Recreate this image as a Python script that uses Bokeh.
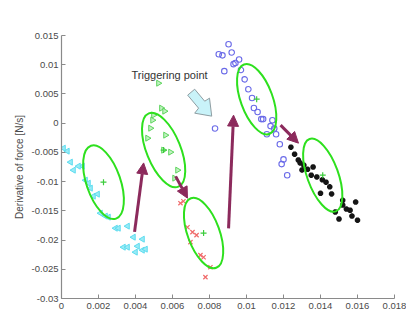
from bokeh.plotting import figure
from bokeh.models import Range1d, FixedTicker, Label, Arrow, NormalHead
from bokeh.embed import file_html
from bokeh.resources import INLINE
import math

# ---------------- data ----------------
cyan_x = [0.00011, 0.00032, 0.00049, 0.00065, 0.00114, 0.00092, 0.0013, 0.00146, 0.00157, 0.00173,
          0.00195, 0.00211, 0.00238, 0.00254, 0.00292, 0.00308, 0.00357, 0.00389, 0.00438, 0.00335,
          0.00357, 0.00411, 0.0040, 0.00438, 0.00454]
cyan_y = [-0.00428, -0.00479, -0.00667, -0.00804, -0.00736, -0.00736, -0.00976, -0.01027, -0.01112, -0.01249,
          -0.01215, -0.0154, -0.01591, -0.01608, -0.01797, -0.01797, -0.01762, -0.01951, -0.01985, -0.02122,
          -0.02122, -0.02105, -0.02207, -0.02173, -0.02156]

green_x = [0.00524, 0.0054, 0.00557, 0.00497, 0.00492, 0.00481, 0.00465, 0.00562, 0.00551, 0.00589, 0.00627, 0.00611]
green_y = [0.00684, 0.00257, 0.00205, 0.00137, 0.00051, -0.00086, -0.00257, -0.00205, -0.00462, -0.00496, -0.00804, -0.00941]

red_x = [0.00643, 0.00659, 0.00681, 0.00708, 0.0073, 0.00697, 0.00751, 0.00768, 0.00805, 0.00778]
red_y = [-0.01369, -0.01335, -0.0178, -0.01865, -0.01916, -0.02036, -0.02258, -0.02293, -0.02464, -0.02635]

blue_x = [0.00903, 0.0085, 0.0087, 0.0092, 0.0096, 0.0094, 0.0093, 0.0088, 0.0097, 0.0099, 0.0101, 0.0103, 0.0104,
          0.0106, 0.0108, 0.0109, 0.0114, 0.0113, 0.0115, 0.0111, 0.0116, 0.0083, 0.0118, 0.0120, 0.0119, 0.0122]
blue_y = [0.0135, 0.0118, 0.0116, 0.0121, 0.0109, 0.0103, 0.0101, 0.0089, 0.0091, 0.0075, 0.0058, 0.0043, 0.0026,
          0.0019, 0.0007, 0.0007, 0.0005, -0.0005, -0.0009, -0.0019, -0.0019, -0.0009, -0.0036, -0.0062, -0.0070, -0.0089]

black_x = [0.0124, 0.0126, 0.0128, 0.0129, 0.0131, 0.0130, 0.0133, 0.0136, 0.0135, 0.0138, 0.0141, 0.0143, 0.0145,
           0.0140, 0.0146, 0.0152, 0.0152, 0.0159, 0.0154, 0.0156, 0.0148, 0.0157, 0.0160, 0.0150]
black_y = [-0.0041, -0.0053, -0.0063, -0.0068, -0.0072, -0.0080, -0.0079, -0.0075, -0.0089, -0.0092, -0.0097, -0.0101,
           -0.0109, -0.0120, -0.0121, -0.0132, -0.0140, -0.0135, -0.0147, -0.0149, -0.0152, -0.0159, -0.0166, -0.0164]

# cluster ellipses: centres (data), diameters (px), tilt (deg)
ell_x = [0.00227, 0.00552, 0.00768, 0.01055, 0.01412]
ell_y = [-0.0101, -0.0046, -0.0188, 0.0041, -0.0089]
ell_minor = [34, 34, 32, 32, 31]
ell_major = [77, 79, 74, 74, 77]
ell_tilt = [19, 22, 20, 20, 20]

# arrows
arr_x0 = [0.00395, 0.00617, 0.00903, 0.01184]
arr_y0 = [-0.0186, -0.0091, -0.0180, -0.00034]
arr_x1 = [0.00444, 0.00681, 0.0093, 0.01281]
arr_y1 = [-0.0068, -0.01283, 0.00137, -0.00342]

# block arrow marking the triggering point
blk_x = [0.00682, 0.0072, 0.00774, 0.0080, 0.00812, 0.0072, 0.00741]
blk_y = [0.00479, 0.00581, 0.00376, 0.00428, 0.0012, 0.00171, 0.00257]

x_ticks = [0, 0.002, 0.004, 0.006, 0.008, 0.01, 0.012, 0.014, 0.016, 0.018]
x_tick_labels = ["0", "0.002", "0.004", "0.006", "0.008", "0.01", "0.012", "0.014", "0.016", "0.018"]
y_ticks = [-0.03, -0.025, -0.02, -0.015, -0.01, -0.005, 0, 0.005, 0.01, 0.015]
y_tick_labels = ["-0.03", "-0.025", "-0.02", "-0.015", "-0.01", "-0.005", "0", "0.005", "0.01", "0.015"]

FONT = "Liberation Sans"
AXC = "#8a8a8a"
TXT = "#4a4a4a"
MAROON = "#8c2a5c"
EGREEN = "#2ee01e"

p = figure(width=406, height=327, output_backend="svg", toolbar_location=None,
           x_range=Range1d(0, 0.018), y_range=Range1d(-0.03, 0.015),
           min_border_left=61, min_border_right=12, min_border_top=35, min_border_bottom=29)
p.outline_line_color = None
p.xgrid.visible = False
p.ygrid.visible = False
p.background_fill_color = "white"

for ax in (p.xaxis[0], p.yaxis[0]):
    ax.axis_line_color = AXC
    ax.axis_line_width = 1.2
    ax.major_tick_line_color = AXC
    ax.major_tick_in = 4
    ax.major_tick_out = 0
    ax.minor_tick_line_color = None
    ax.major_label_text_font = FONT
    ax.major_label_text_font_size = "9.5px"
    ax.major_label_text_color = TXT

p.xaxis.ticker = FixedTicker(ticks=x_ticks)
p.xaxis.major_label_overrides = {t: l for t, l in zip(x_ticks, x_tick_labels)}
p.xaxis.major_label_standoff = 4
p.yaxis.ticker = FixedTicker(ticks=y_ticks)
p.yaxis.major_label_overrides = {t: l for t, l in zip(y_ticks, y_tick_labels)}
p.yaxis.major_label_standoff = 3
p.yaxis.axis_label = "Derivative of force [N/s]"
p.yaxis.axis_label_text_font = FONT
p.yaxis.axis_label_text_font_size = "10px"
p.yaxis.axis_label_text_font_style = "normal"
p.yaxis.axis_label_text_color = TXT
p.yaxis.axis_label_standoff = 4

# block arrow
p.patch(blk_x, blk_y, fill_color="#c9f3f9", line_color="#8f9ea3", line_width=1)

# scatter clusters
p.scatter(cyan_x, cyan_y, marker="triangle", angle=math.pi / 2, size=6,
          line_color="#5cdcef", fill_color="#9aebf6", line_width=1)
p.scatter(green_x, green_y, marker="triangle", angle=-math.pi / 2, size=6,
          line_color="#5cd45c", fill_color="#c2f2c2", line_width=1)
p.scatter(red_x, red_y, marker="x", size=6, line_color="#f06a6a", line_width=1.2)
p.scatter(blue_x, blue_y, marker="circle", size=5.5, line_color="#6a6ae8", fill_color=None, line_width=1.1)
p.scatter(black_x, black_y, marker="asterisk", size=5.5, line_color="#151515", line_width=2)

# ellipses and centroids
p.ellipse(ell_x, ell_y, width=ell_minor, height=ell_major, width_units="screen", height_units="screen",
          angle=[math.radians(a) for a in ell_tilt], fill_color=None, line_color=EGREEN, line_width=2)
p.scatter(ell_x, ell_y, marker="cross", size=6, line_color="#3ccc3c", line_width=1.2)

# arrows
for x0, y0, x1, y1 in zip(arr_x0, arr_y0, arr_x1, arr_y1):
    p.add_layout(Arrow(x_start=x0, y_start=y0, x_end=x1, y_end=y1, line_color=MAROON, line_width=3,
                       end=NormalHead(size=11, fill_color=MAROON, line_color=MAROON, line_width=1)))

p.add_layout(Label(x=0.00584, y=0.0082, text="Triggering point", text_align="center", text_baseline="middle",
                   text_font=FONT, text_font_size="11px", text_color="#333333"))

# x axis title
p.add_layout(Label(x=0.009, y=-24, y_units="screen", text="Robot displacement [m]", text_align="center",
                   text_baseline="middle", text_font=FONT, text_font_size="9.5px", text_color=TXT))

open("out.html", "w").write(file_html(p, INLINE))
